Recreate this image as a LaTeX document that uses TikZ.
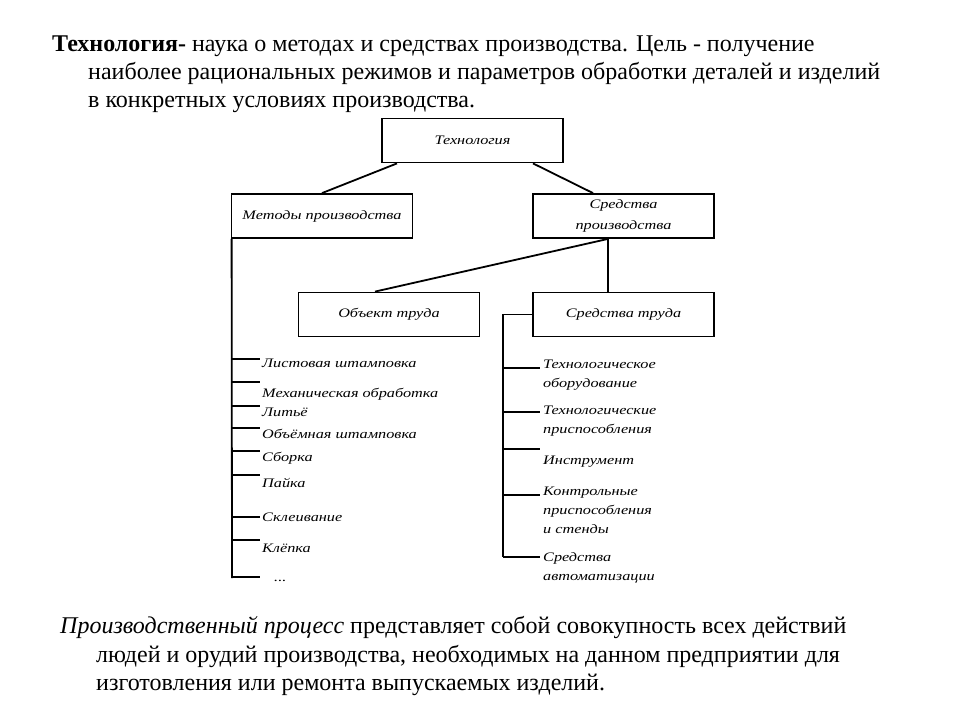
\documentclass[tikz,border=0pt]{standalone}
\usepackage{fontspec}
\setmainfont{Liberation Serif}
\newfontfamily\dia[FakeStretch=1.25]{Liberation Serif}
\begin{document}
\begin{tikzpicture}[x=1pt,y=-1pt,
 box/.style={draw, line width=1.8pt, minimum width=181pt, minimum height=44pt, inner sep=0pt, font=\dia\itshape\fontsize{13}{21}\selectfont, align=center},
 ln/.style={line width=1.8pt},
 item/.style={anchor=base west, inner sep=0pt, font=\dia\itshape\fontsize{13}{19}\selectfont, align=left},
 head/.style={anchor=base west, inner sep=0pt, font=\fontsize{24}{28}\selectfont}]
\useasboundingbox (0,0) rectangle (960,720);
% heading
\node[head] (h1) at (52,51) {\textbf{Технология-} наука о методах и средствах производства. Цель - получение};
\node[head] (h2) at (88,79) {наиболее рациональных режимов и параметров обработки деталей и изделий};
\node[head] (h3) at (88,107) {в конкретных условиях производства.};
% boxes
\node[box] (tech) at (472.5,140.5) {Технология};
\node[box] (methods) at (322,216) {Методы производства};
\node[box] (means) at (623.5,216) {Средства\\производства};
\node[box] (object) at (389,314.5) {Объект труда};
\node[box] (tools) at (623.5,314.5) {Средства труда};
% connectors
\draw[ln] ([xshift=-75.5pt]tech.south) -- (methods.north);
\draw[ln] ([xshift=60.5pt]tech.south) -- ([xshift=-30.5pt]means.north);
\draw[ln] ([xshift=-15.5pt]means.south) -- ([xshift=-15.5pt]tools.north);
\draw[ln] ([xshift=-15.5pt]means.south) -- ([xshift=-14pt]object.north);
% left list
\coordinate (lt) at (232,578);
\draw[ln] ([xshift=1pt]methods.south west) -- (lt);
\foreach \i/\y in {1/359,2/382,3/406,4/428,5/451,6/475,7/517,8/540,9/577}{
  \coordinate (s\i) at (260,\y);
  \draw[ln] (s\i -| lt) -- (s\i);
}
\node[item] (m1) at (262,367.5) {Листовая штамповка};
\node[item] (m2) at (262,397.5) {Механическая обработка};
\node[item] (m3) at (262,416.5) {Литьё};
\node[item] (m4) at (262,438.5) {Объёмная штамповка};
\node[item] (m5) at (262,461.5) {Сборка};
\node[item] (m6) at (262,487.5) {Пайка};
\node[item] (m7) at (262,521.5) {Склеивание};
\node[item] (m8) at (262,552.5) {Клёпка};
\node[item] (m9) at (274,581) {...};
% right list
\coordinate (rt) at (503,557);
\draw[ln] (tools.west) -| (rt);
\foreach \i/\y in {1/368,2/412,3/449,4/495,5/557}{
  \coordinate (r\i) at (540,\y);
  \draw[ln] (r\i -| rt) -- (r\i);
}
\node[item] (t1) at (543,387.5) {Технологическое\\оборудование};
\node[item] (t2) at (543,433.5) {Технологические\\приспособления};
\node[item] (t3) at (543,464.5) {Инструмент};
\node[item] (t4) at (543,533.5) {Контрольные\\приспособления\\и стенды};
\node[item] (t5) at (543,580.5) {Средства\\автоматизации};
% bottom
\node[head] (b1) at (60,633) {\textit{Производственный процесс} представляет собой совокупность всех действий};
\node[head] (b2) at (96,662) {людей и орудий производства, необходимых на данном предприятии для};
\node[head] (b3) at (96,690) {изготовления или ремонта выпускаемых изделий.};
\end{tikzpicture}
\end{document}
